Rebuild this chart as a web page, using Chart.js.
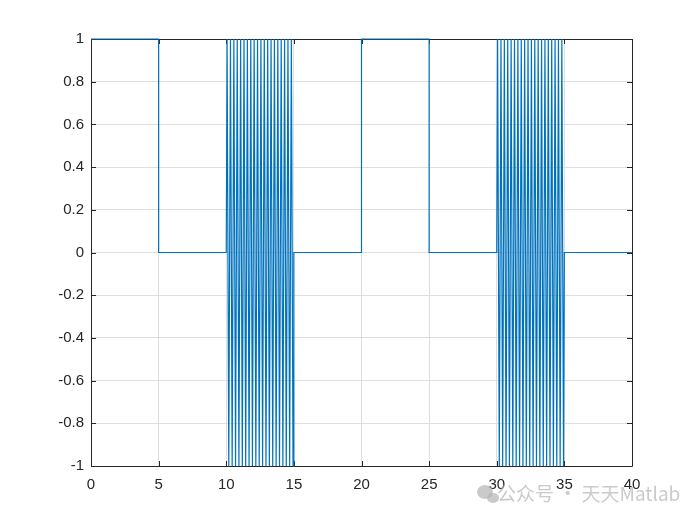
<!DOCTYPE html>
<html>
<head>
<meta charset="utf-8">
<script src="https://cdn.jsdelivr.net/npm/chart.js@4/dist/chart.umd.min.js"></script>
<style>
  body { margin: 0; background: #fff; }
  canvas { display: block; }
</style>
</head>
<body>
<canvas id="c" width="700" height="525"></canvas>
<script>
// signal pieces
const sigT1 = [0, 5, 5, 10];
const sigY1 = [1, 1, 0, 0];

const burstT1 = [10.0625, 10.1875, 10.3125, 10.4375, 10.5625, 10.6875, 10.8125, 10.9375,
  11.0625, 11.1875, 11.3125, 11.4375, 11.5625, 11.6875, 11.8125, 11.9375,
  12.0625, 12.1875, 12.3125, 12.4375, 12.5625, 12.6875, 12.8125, 12.9375,
  13.0625, 13.1875, 13.3125, 13.4375, 13.5625, 13.6875, 13.8125, 13.9375,
  14.0625, 14.1875, 14.3125, 14.4375, 14.5625, 14.6875, 14.8125, 14.9375];
const burstY1 = [1, -1, 1, -1, 1, -1, 1, -1, 1, -1, 1, -1, 1, -1, 1, -1, 1, -1, 1, -1,
  1, -1, 1, -1, 1, -1, 1, -1, 1, -1, 1, -1, 1, -1, 1, -1, 1, -1, 1, -1];

const sigT2 = [15, 20, 20, 25, 25, 30];
const sigY2 = [0, 0, 1, 1, 0, 0];

const burstT2 = [30.0625, 30.1875, 30.3125, 30.4375, 30.5625, 30.6875, 30.8125, 30.9375,
  31.0625, 31.1875, 31.3125, 31.4375, 31.5625, 31.6875, 31.8125, 31.9375,
  32.0625, 32.1875, 32.3125, 32.4375, 32.5625, 32.6875, 32.8125, 32.9375,
  33.0625, 33.1875, 33.3125, 33.4375, 33.5625, 33.6875, 33.8125, 33.9375,
  34.0625, 34.1875, 34.3125, 34.4375, 34.5625, 34.6875, 34.8125, 34.9375];
const burstY2 = [1, -1, 1, -1, 1, -1, 1, -1, 1, -1, 1, -1, 1, -1, 1, -1, 1, -1, 1, -1,
  1, -1, 1, -1, 1, -1, 1, -1, 1, -1, 1, -1, 1, -1, 1, -1, 1, -1, 1, -1];

const sigT3 = [35, 40];
const sigY3 = [0, 0];

const xTicks = [0, 5, 10, 15, 20, 25, 30, 35, 40];
const yTicks = [-1, -0.8, -0.6, -0.4, -0.2, 0, 0.2, 0.4, 0.6, 0.8, 1];

const allT = [].concat(sigT1, burstT1, sigT2, burstT2, sigT3);
const allY = [].concat(sigY1, burstY1, sigY2, burstY2, sigY3);
const points = allT.map((t, i) => ({ x: t, y: allY[i] }));

const axisColor = "#262626";
const fontFamily = "'Liberation Sans', Arial, sans-serif";

// matlab-ish box with inward ticks
const boxPlugin = {
  id: "boxPlugin",
  beforeDatasetsDraw: (chart) => {
    const { ctx, chartArea, scales } = chart;
    const { left, right, top, bottom } = chartArea;
    const tl = 5;

    ctx.save();
    ctx.strokeStyle = axisColor;
    ctx.lineWidth = 1;
    ctx.beginPath();
    ctx.rect(left + 0.5, top + 0.5, right - left, bottom - top);
    ctx.stroke();

    ctx.beginPath();
    xTicks.forEach((v) => {
      const px = Math.round(scales.x.getPixelForValue(v)) + 0.5;
      ctx.moveTo(px, bottom);
      ctx.lineTo(px, bottom - tl);
      ctx.moveTo(px, top);
      ctx.lineTo(px, top + tl);
    });
    yTicks.forEach((v) => {
      const py = Math.round(scales.y.getPixelForValue(v)) + 0.5;
      ctx.moveTo(left, py);
      ctx.lineTo(left + tl, py);
      ctx.moveTo(right, py);
      ctx.lineTo(right - tl, py);
    });
    ctx.stroke();
    ctx.restore();
  },
};

const watermarkPlugin = {
  id: "watermarkPlugin",
  afterDraw: (chart) => {
    const { ctx } = chart;
    ctx.save();
    ctx.globalAlpha = 0.7;
    ctx.fillStyle = "#b4b4b4";
    // little chat-bubble icon
    ctx.beginPath();
    ctx.ellipse(485, 492, 8, 7, 0, 0, 2 * Math.PI);
    ctx.fill();
    ctx.beginPath();
    ctx.ellipse(493, 498, 6, 5, 0, 0, 2 * Math.PI);
    ctx.fill();
    ctx.font = `19px 'Noto Sans CJK SC', ${fontFamily}`;
    ctx.textBaseline = "middle";
    ctx.fillText("公众号 · 天天Matlab", 497, 494);
    ctx.restore();
  },
};

new Chart(document.getElementById("c"), {
  type: "line",
  data: {
    datasets: [
      {
        data: points,
        borderColor: "#0072BD",
        borderWidth: 1.2,
        pointRadius: 0,
        fill: false,
        tension: 0,
        clip: false,
      },
    ],
  },
  options: {
    responsive: false,
    animation: false,
    devicePixelRatio: 1,
    layout: { padding: { top: 39, right: 68, left: 0, bottom: 0 } },
    plugins: { legend: { display: false }, tooltip: { enabled: false } },
    scales: {
      x: {
        type: "linear",
        min: 0,
        max: 40,
        afterBuildTicks: (scale) => {
          scale.ticks = xTicks.map((v) => ({ value: v }));
        },
        afterFit: (scale) => {
          scale.height = 59;
        },
        ticks: {
          color: axisColor,
          font: { family: fontFamily, size: 15 },
          padding: 10,
          maxRotation: 0,
        },
        grid: { color: "#dedede", drawTicks: false },
        border: { display: false },
      },
      y: {
        min: -1,
        max: 1,
        afterBuildTicks: (scale) => {
          scale.ticks = yTicks.map((v) => ({ value: v }));
        },
        afterFit: (scale) => {
          scale.width = 91;
        },
        ticks: {
          color: axisColor,
          font: { family: fontFamily, size: 15 },
          padding: 7,
          callback: (v) => String(Number(v.toFixed(1))),
        },
        grid: { color: "#dedede", drawTicks: false },
        border: { display: false },
      },
    },
  },
  plugins: [boxPlugin, watermarkPlugin],
});
</script>
</body>
</html>
